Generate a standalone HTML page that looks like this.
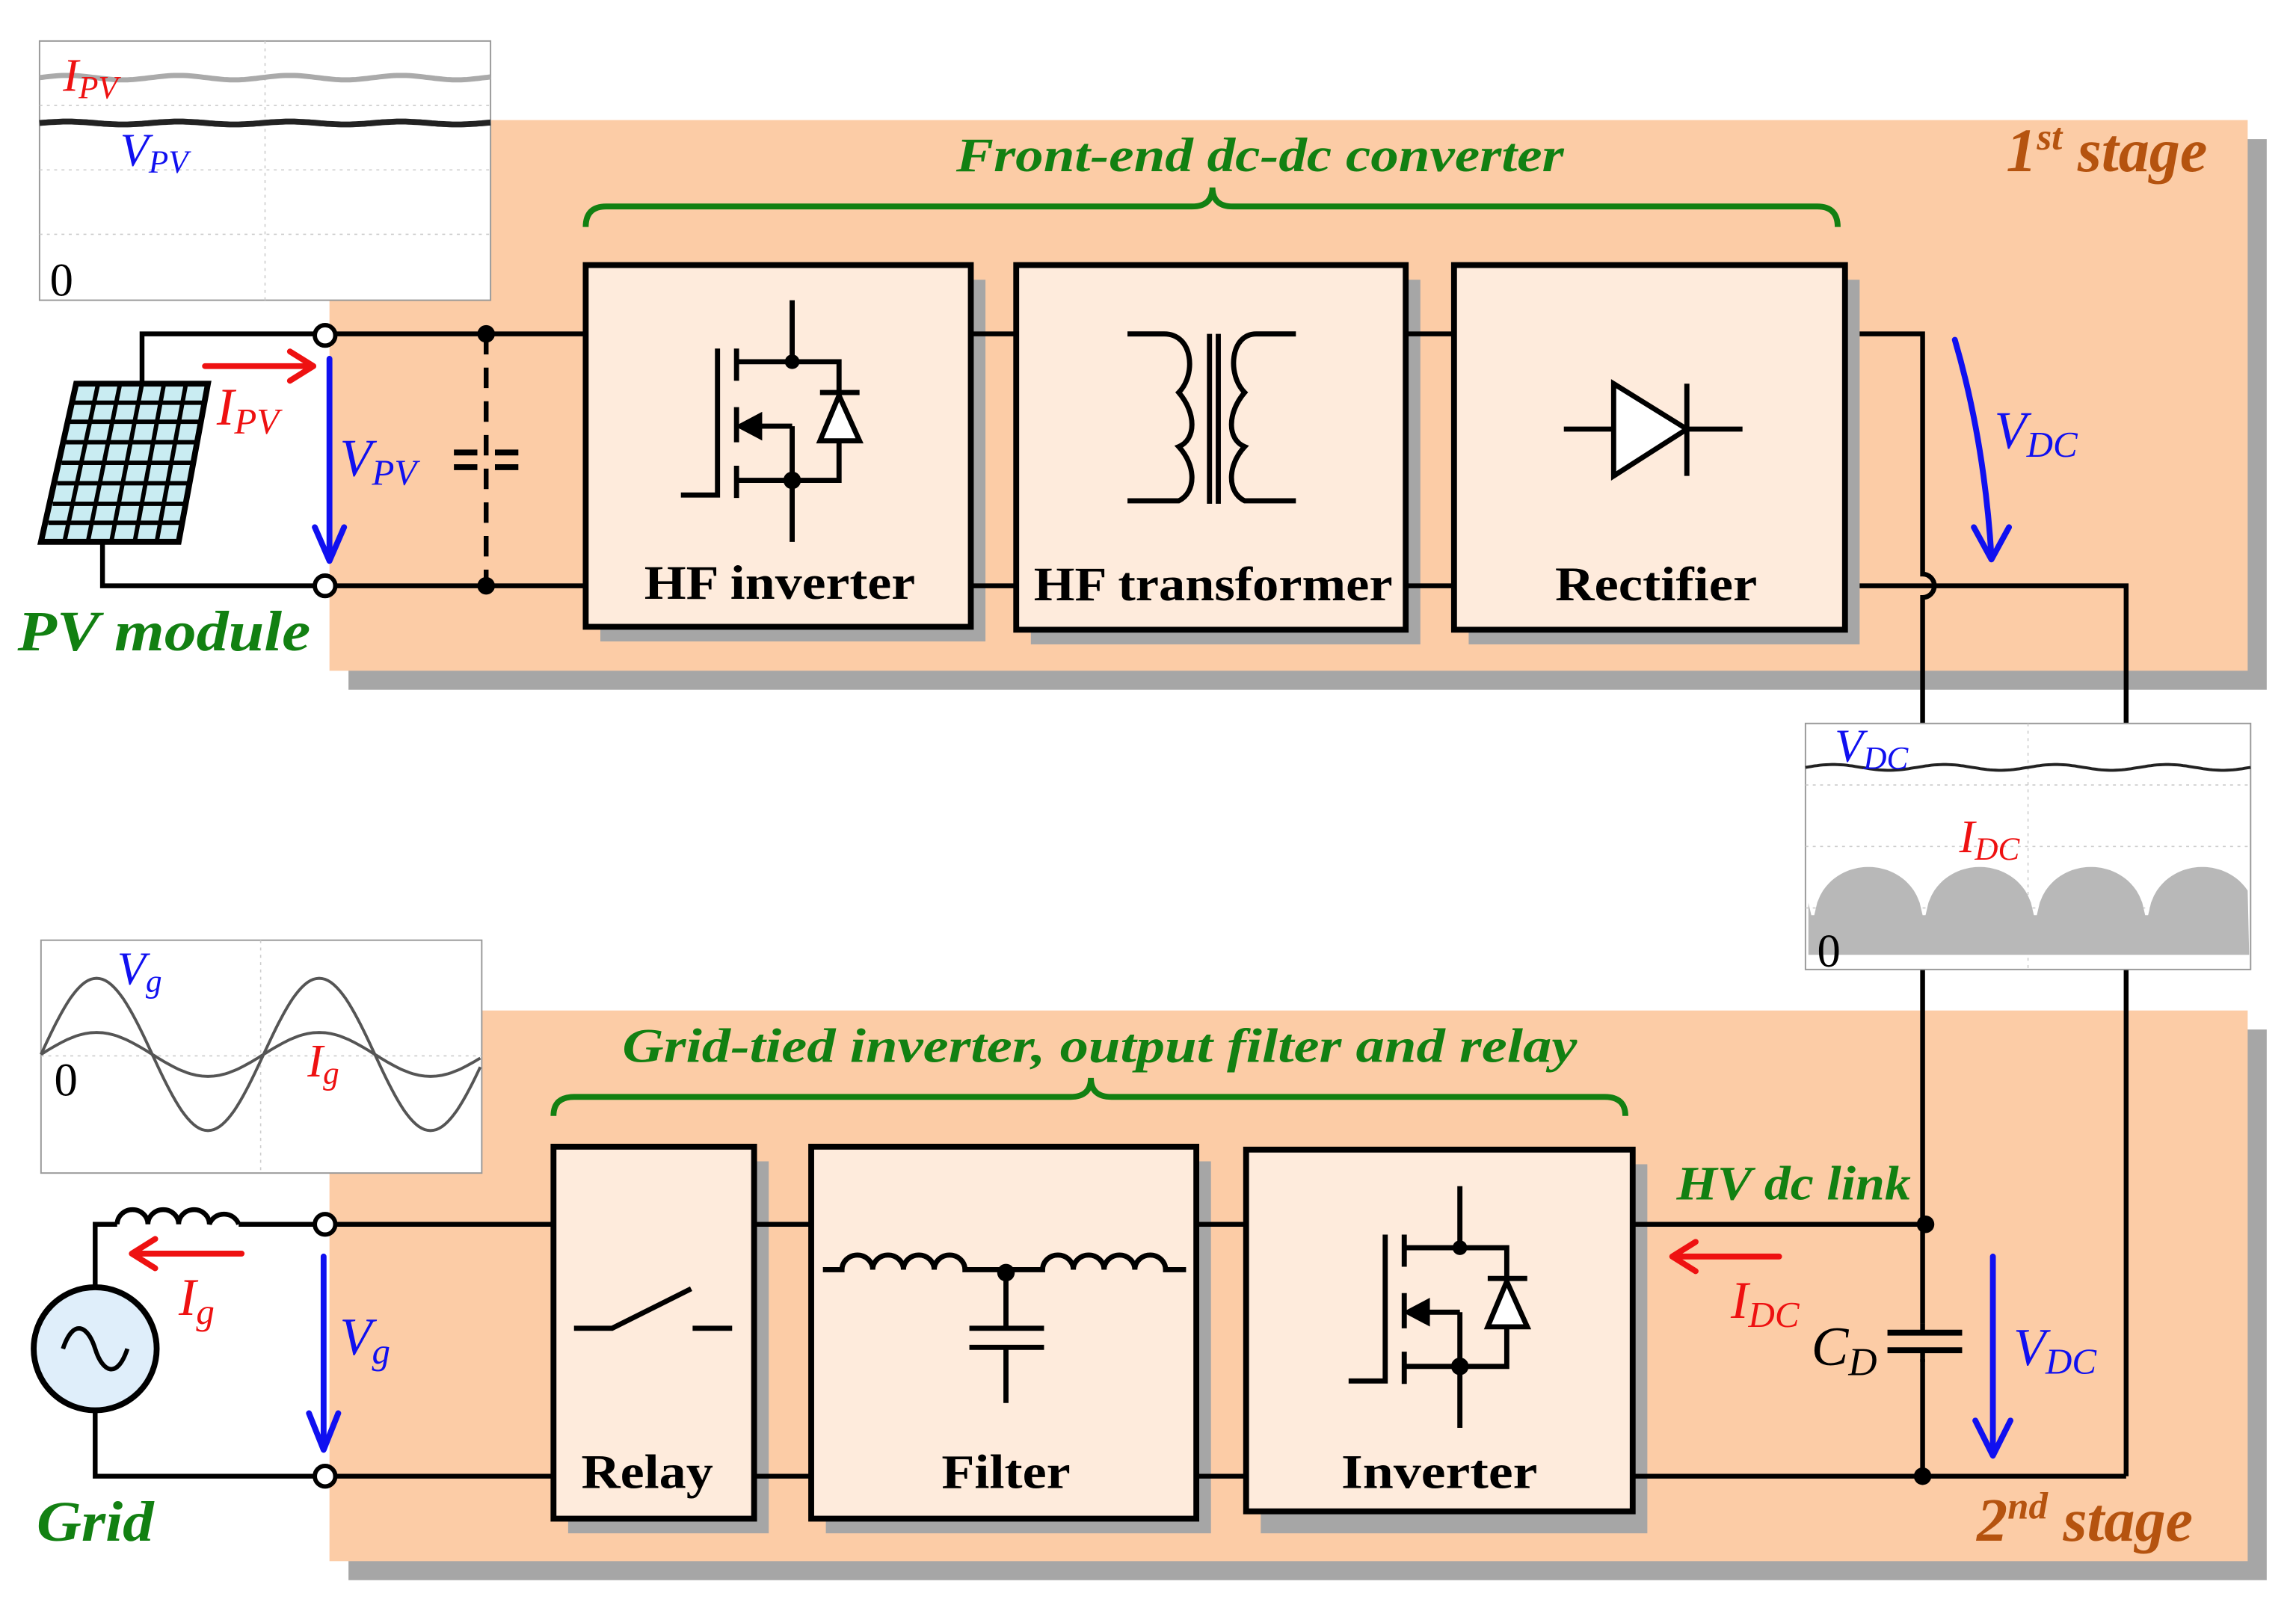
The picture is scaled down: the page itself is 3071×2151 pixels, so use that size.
<!DOCTYPE html>
<html><head><meta charset="utf-8"><style>
html,body{margin:0;padding:0;background:#fff;}
svg{display:block;}
text{font-family:"Liberation Serif",serif;}
.g{fill:#128012;font-weight:bold;font-style:italic;}
.b{font-weight:bold;fill:#000;}
.st{fill:#b5530f;font-weight:bold;font-style:italic;}
.red{fill:#ee1111;font-style:italic;}
.blu{fill:#1010f0;font-style:italic;}
</style></head><body>
<svg width="3071" height="2151" viewBox="0 0 1568 1098" preserveAspectRatio="none" xmlns="http://www.w3.org/2000/svg">
<rect x="238" y="95" width="1310" height="376" fill="#a6a6a6"/>
<rect x="225" y="82" width="1310" height="376" fill="#fccca6"/>
<rect x="238" y="703" width="1310" height="376" fill="#a6a6a6"/>
<rect x="225" y="690" width="1310" height="376" fill="#fccca6"/>

<g fill="#a6a6a6">
<rect x="410" y="191" width="263" height="247"/><rect x="704" y="191" width="266" height="249"/><rect x="1003" y="191" width="267" height="249"/>
<rect x="388" y="793" width="137" height="254"/><rect x="564" y="793" width="263" height="254"/><rect x="861" y="795" width="264" height="252"/>
</g>
<g fill="#feebdc" stroke="#000" stroke-width="4">
<rect x="400" y="181" width="263" height="247"/><rect x="694" y="181" width="266" height="249"/><rect x="993" y="181" width="267" height="249"/>
<rect x="378" y="783" width="137" height="254"/><rect x="554" y="783" width="263" height="254"/><rect x="851" y="785" width="264" height="247"/>
</g>

<g stroke="#000" stroke-width="3.3" fill="none">
<path d="M97 262 V228 H215"/><path d="M70 370 V400 H215"/>
<path d="M229 228 H400 M229 400 H400"/>
<path d="M663 228 H694 M663 400 H694 M960 228 H993 M960 400 H993"/>
<path d="M1270 228 H1313 V392 A8 8 0 0 1 1313 408 V494"/>
<path d="M1270 400 H1452 V494"/>
<path d="M1313 662 V1008 M1452 662 V1008"/>
<path d="M229 836 H378 M515 836 H554 M817 836 H851 M1115 836 H1313"/>
<path d="M229 1008 H378 M515 1008 H554 M817 1008 H851 M1115 1008 H1452"/>
<path d="M65 879 V836 H80 M163 836 H215"/>
<path d="M65 963 V1008 H215"/>
<path d="M332 228 V400" stroke-dasharray="14 9"/>
<path d="M310 309 H326 M338 309 H354 M310 319 H326 M338 319 H354" stroke-width="4"/>
</g>
<path d="M80 836 a10.5 10 0 0 1 21 0 a10.5 10 0 0 1 21 0 a10.5 10 0 0 1 21 0 a10.5 10 0 0 1 20 0" stroke="#000" stroke-width="3.3" fill="none"/>
<g fill="#fff" stroke="#000" stroke-width="3">
<circle cx="222" cy="229" r="7"/><circle cx="222" cy="400" r="7"/><circle cx="222" cy="836" r="7"/><circle cx="222" cy="1008" r="7"/>
</g>
<g fill="#000"><circle cx="332" cy="228" r="6"/><circle cx="332" cy="400" r="6"/><circle cx="1315" cy="836" r="6"/><circle cx="1313" cy="1008" r="6"/></g>

<rect x="1287" y="904" width="55" height="24" fill="#fccca6"/>
<path d="M1289 910 H1340 M1289 922 H1340" stroke="#000" stroke-width="4"/>
<path d="M1313 904 V910 M1313 922 V930" stroke="#000" stroke-width="3.3"/>

<circle cx="65" cy="921" r="42" fill="#dfeefa" stroke="#000" stroke-width="4"/>
<path d="M43 921 C50 900 60 905 65 921 C70 937 80 942 87 921" stroke="#000" stroke-width="3" fill="none"/>

<g>
<polygon points="52,262 142,262 122,370 28,370" fill="#c9ecf2" stroke="#000" stroke-width="4"/>
<g stroke="#000" stroke-width="3">
<line x1="50" y1="275" x2="140" y2="275"/><line x1="48" y1="288" x2="138" y2="288"/><line x1="45" y1="302" x2="135" y2="302"/>
<line x1="42" y1="316" x2="132" y2="316"/><line x1="39" y1="330" x2="130" y2="330"/><line x1="36" y1="344" x2="127" y2="344"/><line x1="33" y1="357" x2="125" y2="357"/>
<line x1="67" y1="262" x2="44" y2="370"/><line x1="82" y1="262" x2="60" y2="370"/><line x1="97" y1="262" x2="76" y2="370"/><line x1="112" y1="262" x2="92" y2="370"/><line x1="127" y1="262" x2="107" y2="370"/>
</g></g>

<g id="mos" stroke="#000" stroke-width="3.5" fill="none">
<path d="M541 205 V247 M503 247 H573 V328 H503 M541 291 V370"/>
<path d="M541 291 H517"/>
<path d="M490 238 V338 H465"/>
<path d="M503 238 V260 M503 278 V302 M503 318 V340"/>
<path d="M560 268 H587"/>
<polygon points="573,270 560,301 587,301" fill="#fff"/>
<polygon points="503,291 520,282 520,300" fill="#000" stroke-width="1"/>
<circle cx="541" cy="247" r="5" fill="#000" stroke="none"/><circle cx="541" cy="328" r="6" fill="#000" stroke="none"/>
</g>
<use href="#mos" transform="translate(456 605)"/>

<g stroke="#000" stroke-width="3.5" fill="none">
<path d="M770 228 H795 C815 228 817 256 805 268 C817 282 817 300 805 305 C817 318 817 336 805 342 C800 342 795 342 770 342"/>
<path d="M885 228 H858 C840 228 838 256 850 268 C838 282 838 300 850 305 C838 318 838 336 850 342 H885"/>
<path d="M826 228 V344 M832 228 V344"/>
</g>
<g stroke="#000" stroke-width="3.5">
<path d="M1068 293 H1102 M1152 293 H1190 M1152 262 V325"/>
<polygon points="1102,262 1102,325 1152,293" fill="#fff"/>
</g>
<path d="M392 907 H418 L472 880 M473 907 H500" stroke="#000" stroke-width="3.5" fill="none"/>
<g stroke="#000" stroke-width="3.5" fill="none">
<path d="M562 867 H575 a10.5 10 0 0 1 21 0 a10.5 10 0 0 1 21 0 a10.5 10 0 0 1 21 0 a10.5 10 0 0 1 21 0 H712 a10.5 10 0 0 1 21 0 a10.5 10 0 0 1 21 0 a10.5 10 0 0 1 21 0 a10.5 10 0 0 1 21 0 H810"/>
<path d="M687 868 V907 M662 907 H713 M662 920 H713 M687 920 V958"/>
</g>
<circle cx="687" cy="869" r="6" fill="#000"/>

<path d="M400 155 Q400 141 414 141 H814 Q828 141 828 128 Q828 141 842 141 H1241 Q1255 141 1255 155" stroke="#128012" stroke-width="4" fill="none"/>
<path d="M378 762 Q378 749 392 749 H731 Q745 749 745 736 Q745 749 759 749 H1096 Q1110 749 1110 762" stroke="#128012" stroke-width="4" fill="none"/>

<g fill="none" stroke-width="4" stroke-linecap="round" stroke-linejoin="round">
<path d="M140 250 H212 M198 240 L214 250 L198 260" stroke="#ee1111"/>
<path d="M225 245 V383 M215 360 L225 383 L235 360" stroke="#1010f0"/>
<path d="M1335 232 Q1355 300 1360 380 M1348 360 L1360 382 L1372 360" stroke="#1010f0"/>
<path d="M165 856 H92 M106 846 L90 856 L106 866" stroke="#ee1111"/>
<path d="M221 858 V988 M211 965 L221 990 L231 965" stroke="#1010f0"/>
<path d="M1215 858 H1144 M1158 848 L1142 858 L1158 868" stroke="#ee1111"/>
<path d="M1361 858 V993 M1349 970 L1361 994 L1373 970" stroke="#1010f0"/>
</g>

<rect x="27" y="28" width="308" height="177" fill="#fff" stroke="#999" stroke-width="1"/>
<rect x="28" y="642" width="301" height="159" fill="#fff" stroke="#999" stroke-width="1"/>
<rect x="1233" y="494" width="304" height="168" fill="#fff" stroke="#999" stroke-width="1"/>
<g stroke="#ccc" stroke-width="0.8" stroke-dasharray="2 3">
<path d="M27 116 H335 M181 28 V205 M27 72 H335 M27 160 H335"/>
<path d="M28 721 H329 M178 642 V801"/>
<path d="M1233 578 H1537 M1385 494 V662 M1233 536 H1537 M1233 620 H1537"/>
</g>
<path id="ipvw" d="" stroke="#aaa" stroke-width="3.5" fill="none"/>
<path id="vpvw" d="" stroke="#222" stroke-width="4" fill="none"/>
<path id="vgw" d="" stroke="#555" stroke-width="2" fill="none"/>
<path id="igw" d="" stroke="#555" stroke-width="2" fill="none"/>
<path id="vdcw" d="" stroke="#222" stroke-width="2" fill="none"/>
<path id="idcw" d="" fill="#b8b8b8" stroke="none"/>

<text x="653" y="117" class="g" font-size="33" textLength="415" lengthAdjust="spacingAndGlyphs">Front-end dc-dc converter</text>
<text x="1370" y="117" class="st" font-size="42">1<tspan font-size="26" dy="-15">st</tspan><tspan dy="15"> stage</tspan></text>
<text x="1350" y="1052" class="st" font-size="42">2<tspan font-size="26" dy="-15">nd</tspan><tspan dy="15">  stage</tspan></text>
<text x="425" y="725" class="g" font-size="33" textLength="652" lengthAdjust="spacingAndGlyphs">Grid-tied inverter, output filter and relay</text>
<text x="12" y="444" class="g" font-size="39" textLength="200" lengthAdjust="spacingAndGlyphs">PV module</text>
<text x="25" y="1052" class="g" font-size="39" textLength="80" lengthAdjust="spacingAndGlyphs">Grid</text>
<text x="1145" y="819" class="g" font-size="33" textLength="160" lengthAdjust="spacingAndGlyphs">HV dc link</text>
<text x="440" y="409" class="b" font-size="33" textLength="185" lengthAdjust="spacingAndGlyphs">HF inverter</text>
<text x="706" y="410" class="b" font-size="33" textLength="245" lengthAdjust="spacingAndGlyphs">HF transformer</text>
<text x="1062" y="410" class="b" font-size="33" textLength="138" lengthAdjust="spacingAndGlyphs">Rectifier</text>
<text x="397" y="1016" class="b" font-size="33" textLength="90" lengthAdjust="spacingAndGlyphs">Relay</text>
<text x="643" y="1016" class="b" font-size="33" textLength="88" lengthAdjust="spacingAndGlyphs">Filter</text>
<text x="916" y="1016" class="b" font-size="33" textLength="134" lengthAdjust="spacingAndGlyphs">Inverter</text>

<text x="148" y="290" class="red" font-size="36">I<tspan font-size="25" dy="6">PV</tspan></text>
<text x="232" y="325" class="blu" font-size="36">V<tspan font-size="25" dy="6">PV</tspan></text>
<text x="1362" y="306" class="blu" font-size="36">V<tspan font-size="25" dy="6">DC</tspan></text>
<text x="122" y="898" class="red" font-size="36">I<tspan font-size="25" dy="6">g</tspan></text>
<text x="232" y="925" class="blu" font-size="36">V<tspan font-size="25" dy="6">g</tspan></text>
<text x="1182" y="900" class="red" font-size="36">I<tspan font-size="25" dy="6">DC</tspan></text>
<text x="1237" y="932" font-size="38" font-style="italic" fill="#000">C<tspan font-size="27" dy="7">D</tspan></text>
<text x="1375" y="932" class="blu" font-size="36">V<tspan font-size="25" dy="6">DC</tspan></text>

<text x="43" y="62" class="red" font-size="32">I<tspan font-size="22" dy="5">PV</tspan></text>
<text x="82" y="113" class="blu" font-size="32">V<tspan font-size="22" dy="5">PV</tspan></text>
<text x="34" y="202" font-size="32" fill="#000">0</text>
<text x="80" y="672" class="blu" font-size="32">V<tspan font-size="22" dy="5">g</tspan></text>
<text x="210" y="735" class="red" font-size="32">I<tspan font-size="22" dy="5">g</tspan></text>
<text x="37" y="748" font-size="32" fill="#000">0</text>
<text x="1253" y="520" class="blu" font-size="32">V<tspan font-size="22" dy="5">DC</tspan></text>
<text x="1338" y="582" class="red" font-size="32">I<tspan font-size="22" dy="5">DC</tspan></text>
<text x="1241" y="660" font-size="32" fill="#000">0</text>
</svg>
<script>
function w(id,x0,x1,f,step){var d="";for(var x=x0;x<=x1;x+=step){d+=(x==x0?"M":"L")+x.toFixed(1)+" "+f(x).toFixed(1)+" ";}document.getElementById(id).setAttribute("d",d);}
w("ipvw",27,335,function(x){return 53-1.5*Math.sin((x-27)/76*2*Math.PI);},2);
w("vpvw",27,335,function(x){return 84-1*Math.sin((x-27)/76*2*Math.PI);},2);
w("vgw",28,329,function(x){return 720-52*Math.sin((x-28)/152*2*Math.PI);},2);
w("igw",28,329,function(x){return 720-15*Math.sin((x-28)/152*2*Math.PI);},2);
w("vdcw",1233,1537,function(x){return 524-2*Math.sin((x-1233)/76*2*Math.PI);},2);
(function(){var d="M1235 652 ";for(var x=1235;x<=1536;x+=2){var p=((x-1238)%76+76)%76/76;var h=Math.pow(Math.sin(p*Math.PI),0.25)*60;d+="L"+x+" "+(652-h).toFixed(1)+" ";}d+="L1536 652 Z";document.getElementById("idcw").setAttribute("d",d);})();
</script>
</body></html>
